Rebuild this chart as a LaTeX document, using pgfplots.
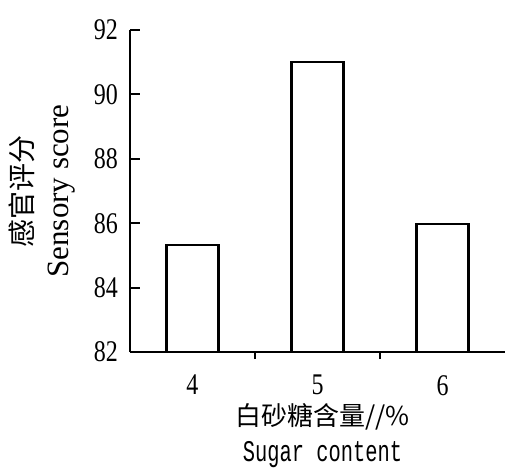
\documentclass[border=0pt]{standalone}
\usepackage{pgfplots}
\pgfplotsset{compat=1.18}
\usepackage{fontspec}
\setmainfont{Liberation Serif}
\newfontfamily\cjk{Noto Sans CJK SC}
\newfontfamily\condserif{Liberation Serif}[FakeStretch=0.8]
\newfontfamily\condmono{Liberation Mono}[FakeStretch=0.68]
\begin{document}
\begin{tikzpicture}
\begin{axis}[
  scale only axis,
  width=375pt, height=322pt,
  xmin=3.5, xmax=6.5,
  ymin=82, ymax=92,
  ytick={82,84,86,88,90,92},
  xtick={4,5,6},
  minor xtick={4.5,5.5},
  axis lines*=left,
  axis line style={line width=2.4pt},
  tick align=inside,
  major tick length=10pt,
  minor tick length=7pt,
  major x tick style={draw=none},
  every tick/.style={line width=2pt,black},
  minor x tick style={line width=2pt,black},
  /pgf/number format/assume math mode=true,
  tick label style={font=\fontsize{30}{32}\selectfont\condserif, inner sep=0pt},
  y tick label style={anchor=east, xshift=-12pt},
  x tick label style={anchor=north, yshift=-13pt},
  ylabel={{\cjk\fontsize{28}{36}\selectfont 感官评分}\\{\fontsize{31}{36}\selectfont Sensory score}},
  ylabel style={at={(axis description cs:0,0.5)}, anchor=center, yshift=88pt, align=center, font=\fontsize{28}{36}\selectfont},
  xlabel={{\cjk\fontsize{26}{36}\selectfont 白砂糖含量//\%}\\{\condmono\fontsize{30}{36}\selectfont Sugar content}},
  xlabel style={at={(axis description cs:0.5,0)}, anchor=center, yshift=-84pt, xshift=5pt, align=center, font=\fontsize{28}{36}\selectfont},
  ybar, bar width=52pt,
]
\addplot[draw=black, fill=white, line width=2.2pt] coordinates {(4,85.33) (5,91.0) (6,85.98)};
\end{axis}
\pgfresetboundingbox
\useasboundingbox (-130pt,-117pt) rectangle (375pt,352pt);
\end{tikzpicture}
\end{document}
